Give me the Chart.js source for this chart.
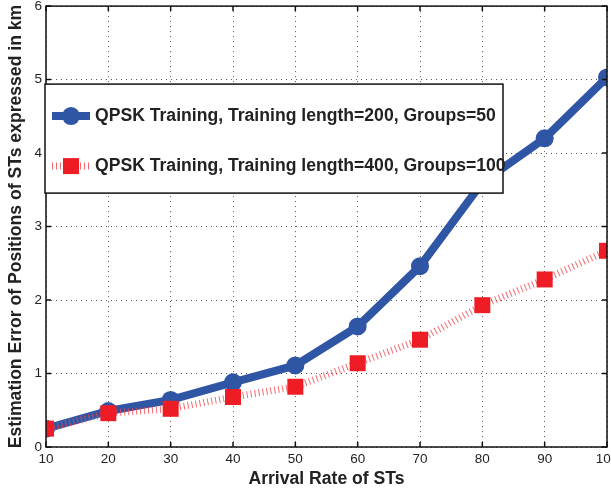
<!DOCTYPE html>
<html>
<head>
<meta charset="utf-8">
<script src="https://cdn.jsdelivr.net/npm/chart.js@4.4.1/dist/chart.umd.min.js"></script>
<style>
    html, body { margin: 0; padding: 0; background: #fff; overflow: hidden; }
    #wrap { width: 640px; height: 498px; margin-top: -6px; }
</style>
</head>
<body>
<div id="wrap"><canvas id="chart" width="640" height="498"></canvas></div>
<script>
const arrivalRates = [10, 20, 30, 40, 50, 60, 70, 80, 90, 100];
const qpsk200 = [0.25, 0.49, 0.64, 0.88, 1.11, 1.64, 2.46, 3.6, 4.2, 5.03];
const qpsk400 = [0.25, 0.46, 0.52, 0.68, 0.82, 1.14, 1.46, 1.93, 2.28, 2.67];
const seriesLabels = [
    "QPSK Training, Training length=200, Groups=50",
    "QPSK Training, Training length=400, Groups=100"
];
const yTicks = [0, 1, 2, 3, 4, 5, 6];

const FONT = "'Liberation Sans', Arial, sans-serif";
const BLUE = "#2f55a5";
const RED = "#ee1c25";
const RED_LINE = "rgba(240,70,80,0.8)";

// box around plot + inward ticks on all sides
const boxPlugin = {
    id: "box",
    afterDatasetsDraw(chart) {
        const { ctx, chartArea: a, scales } = chart;
        ctx.save();
        ctx.strokeStyle = "#111";
        ctx.lineWidth = 1.5;
        ctx.beginPath();
        scales.x.ticks.forEach(t => {
            const px = scales.x.getPixelForValue(t.value);
            ctx.moveTo(px, a.bottom); ctx.lineTo(px, a.bottom - 5);
            ctx.moveTo(px, a.top); ctx.lineTo(px, a.top + 5);
        });
        scales.y.ticks.forEach(t => {
            const py = scales.y.getPixelForValue(t.value);
            ctx.moveTo(a.left, py); ctx.lineTo(a.left + 5, py);
            ctx.moveTo(a.right, py); ctx.lineTo(a.right - 5, py);
        });
        ctx.stroke();
        ctx.strokeRect(a.left, a.top, a.right - a.left, a.bottom - a.top);
        ctx.restore();
    }
};

// legend drawn inside plot, upper left
const legendPlugin = {
    id: "boxLegend",
    afterDraw(chart) {
        const { ctx, chartArea: a } = chart;
        const top = a.top + 78;
        const x0 = a.left - 1, y0 = top, w = 458, h = 109;
        ctx.save();
        ctx.fillStyle = "#fff";
        ctx.fillRect(x0, y0, w, h);
        ctx.strokeStyle = "#111";
        ctx.lineWidth = 1.5;
        ctx.strokeRect(x0, y0, w, h);

        // row 1
        const r1 = top + 32, r2 = top + 82;
        ctx.strokeStyle = BLUE;
        ctx.lineWidth = 8;
        ctx.beginPath(); ctx.moveTo(x0 + 7, r1); ctx.lineTo(x0 + 45, r1); ctx.stroke();
        ctx.fillStyle = BLUE;
        ctx.beginPath(); ctx.arc(x0 + 26, r1, 9, 0, Math.PI * 2); ctx.fill();

        // row 2
        ctx.strokeStyle = RED_LINE;
        ctx.lineWidth = 7;
        ctx.setLineDash([1, 3]);
        ctx.beginPath(); ctx.moveTo(x0 + 7, r2); ctx.lineTo(x0 + 45, r2); ctx.stroke();
        ctx.setLineDash([]);
        ctx.fillStyle = RED;
        ctx.fillRect(x0 + 26 - 8, r2 - 8, 16, 16);

        ctx.fillStyle = "#222";
        ctx.font = "bold 17.6px " + FONT;
        ctx.textBaseline = "middle";
        ctx.fillText(chart.data.datasets[0].label, x0 + 50, r1);
        ctx.fillText(chart.data.datasets[1].label, x0 + 50, r2);
        ctx.restore();
    }
};

new Chart(document.getElementById("chart"), {
    type: "line",
    data: {
        datasets: [
            {
                label: seriesLabels[0],
                data: arrivalRates.map((x, i) => ({ x, y: qpsk200[i] })),
                borderColor: BLUE,
                backgroundColor: BLUE,
                borderWidth: 8,
                pointRadius: 9,
                pointStyle: "circle",
                pointBorderWidth: 0,
                order: 2
            },
            {
                label: seriesLabels[1],
                data: arrivalRates.map((x, i) => ({ x, y: qpsk400[i] })),
                borderColor: RED_LINE,
                backgroundColor: RED,
                borderWidth: 7,
                borderDash: [1, 3],
                borderCapStyle: "butt",
                pointRadius: 11.3,
                pointStyle: "rect",
                pointBorderWidth: 0,
                order: 1
            }
        ]
    },
    options: {
        responsive: false,
        animation: false,
        layout: { padding: { top: 0, right: 33, left: 0, bottom: 0 } },
        plugins: { legend: { display: false }, tooltip: { enabled: false } },
        scales: {
            x: {
                type: "linear",
                min: 10,
                max: 100,
                afterBuildTicks: s => { s.ticks = arrivalRates.map(v => ({ value: v })); },
                ticks: { color: "#222", font: { size: 13.5, family: FONT }, padding: 4, maxRotation: 0 },
                grid: { color: "#555", lineWidth: 1, tickLength: 0 },
                border: { display: false, dash: [1, 4] },
                title: {
                    display: true,
                    text: "Arrival Rate of STs",
                    color: "#222",
                    font: { size: 17.6, weight: "bold", family: FONT },
                    padding: { top: 0, bottom: 2 }
                },
                afterFit: s => { s.height = 45; }
            },
            y: {
                min: 0,
                max: 6,
                afterBuildTicks: s => { s.ticks = yTicks.map(v => ({ value: v })); },
                ticks: { color: "#222", font: { size: 13.5, family: FONT }, padding: 4 },
                grid: { color: "#555", lineWidth: 1, tickLength: 0 },
                border: { display: false, dash: [1, 4] },
                title: {
                    display: true,
                    text: "Estimation Error of Positions of STs expressed in km",
                    color: "#222",
                    font: { size: 17.6, weight: "bold", family: FONT },
                    padding: { top: 6, bottom: 0 }
                },
                afterFit: s => { s.width = 46; }
            }
        }
    },
    plugins: [boxPlugin, legendPlugin]
});
</script>
</body>
</html>
